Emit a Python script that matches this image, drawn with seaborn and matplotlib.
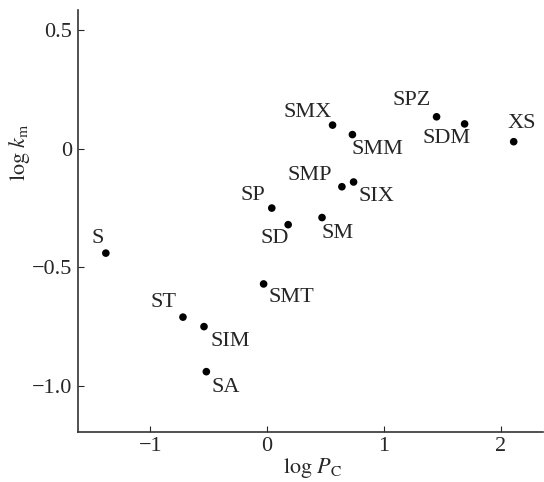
"""
log k_m against log P_C for a set of compounds.
"""
import seaborn as sns
import matplotlib.pyplot as plt
import pandas as pd

names = ['S', 'ST', 'SIM', 'SA', 'SP', 'SD', 'SMT', 'SM', 'SMP', 'SIX',
         'SMX', 'SMM', 'SPZ', 'SDM', 'XS']
log_pc = [-1.38, -0.72, -0.54, -0.52, 0.04, 0.18, -0.03, 0.47, 0.64, 0.74,
          0.56, 0.73, 1.45, 1.69, 2.11]
log_km = [-0.44, -0.71, -0.75, -0.94, -0.25, -0.32, -0.57, -0.29, -0.16, -0.14,
          0.10, 0.06, 0.135, 0.105, 0.03]

# label offsets from the dot, in pixels (right, down)
offsets = {
    'S': (-8, -15), 'ST': (-19, -15), 'SIM': (26, 15), 'SA': (19, 16),
    'SP': (-19, -13), 'SD': (-13, 14), 'SMT': (28, 14), 'SM': (16, 16),
    'SMP': (-32, -11), 'SIX': (23, 15), 'SMX': (-25, -13), 'SMM': (25, 15),
    'SPZ': (-25, -16), 'SDM': (-18, 15), 'XS': (8, -18),
}

sns.set_style('ticks')
plt.rcParams['font.family'] = ['Liberation Serif', 'DejaVu Serif']
plt.rcParams['mathtext.fontset'] = 'stix'
plt.rcParams['xtick.direction'] = 'in'
plt.rcParams['ytick.direction'] = 'in'

df = pd.DataFrame({'name': names, 'log_pc': log_pc, 'log_km': log_km})

fig = plt.figure(figsize=(5.44, 4.82), dpi=100)
ax = fig.add_axes([0.143, 0.104, 0.855, 0.875])
sns.scatterplot(data=df, x='log_pc', y='log_km', color='black', s=30,
                edgecolor='none', ax=ax)

for n, x, y in zip(names, log_pc, log_km):
    dx, dy = offsets[n]
    ax.annotate(n, (x, y), xytext=(dx * 0.72, -dy * 0.72),
                textcoords='offset points', ha='center', va='center',
                fontsize=16)

ax.set_xlim(-1.62, 2.36)
ax.set_ylim(-1.194, 0.585)
ax.set_xticks([-1, 0, 1, 2])
ax.set_xticklabels(['\u22121', '0', '1', '2'])
ax.set_yticks([0.5, 0, -0.5, -1.0])
ax.set_yticklabels(['0.5', '0', '\u22120.5', '\u22121.0'])
ax.tick_params(labelsize=16, length=4, width=0.8, pad=4)
ax.set_xlabel(r'$\log\,P_{\mathrm{C}}$', fontsize=16)
ax.set_ylabel(r'$\log\,k_{\mathrm{m}}$', fontsize=16)
ax.xaxis.set_label_coords(0.504, -0.058)
ax.yaxis.set_label_coords(-0.098, 0.664)
sns.despine(ax=ax)
for sp in ax.spines.values():
    sp.set_color('#333333')
    sp.set_linewidth(1.2)

fig.savefig('out.png', dpi=100)
